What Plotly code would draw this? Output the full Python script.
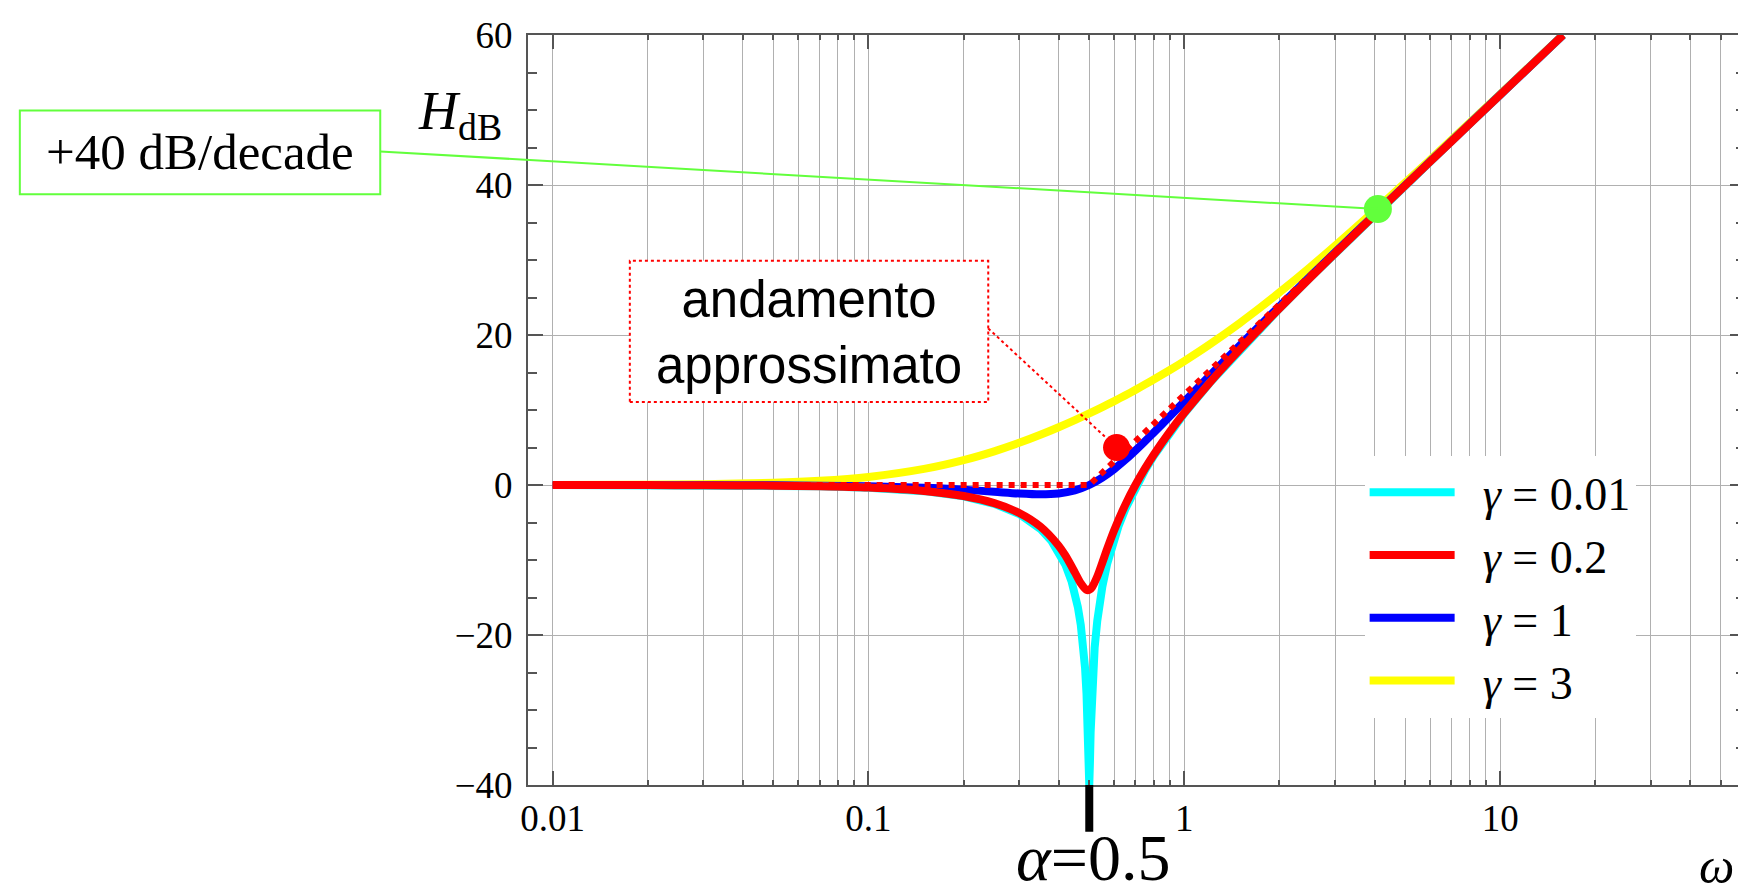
import math
import plotly.graph_objects as go

# ---------------- data ----------------
omega = [0.01, 0.02, 0.03, 0.05, 0.07, 0.1, 0.15, 0.2, 0.25, 0.3, 0.35, 0.4, 0.45,
         0.5, 0.55, 0.6, 0.65, 0.7, 0.75, 0.8, 0.9, 1.0, 1.2, 1.5, 1.75, 2, 2.5, 3,
         4, 5, 7, 10, 15.8]
db_gamma_1 = [-0.002, -0.007, -0.016, -0.043, -0.084, -0.170, -0.371, -0.627, -0.902,
              -1.138, -1.249, -1.138, -0.726, 0.000, 0.983, 2.131, 3.357, 4.596, 5.812,
              6.984, 9.169, 11.139, 14.536, 18.633, 21.424, 23.820, 27.789, 31.007,
              36.056, 39.957, 45.823, 52.030, 59.983]
db_gamma_3 = [0.012, 0.048, 0.108, 0.294, 0.560, 1.077, 2.143, 3.316, 4.491, 5.622,
              6.693, 7.701, 8.649, 9.542, 10.388, 11.190, 11.955, 12.686, 13.387,
              14.061, 15.337, 16.532, 18.721, 21.614, 23.744, 25.670, 29.036, 31.901,
              36.576, 40.294, 45.998, 52.116, 60.018]

omega_red = [0.01, 0.02, 0.03, 0.05, 0.07, 0.1, 0.15, 0.2, 0.25, 0.3, 0.35, 0.4, 0.42,
             0.45, 0.47, 0.49, 0.5, 0.51, 0.53, 0.55, 0.57, 0.6, 0.65, 0.7, 0.75, 0.8,
             0.9, 1.0, 1.2, 1.5, 1.75, 2, 2.5, 3, 4, 5, 7, 10, 15.8]
db_gamma_02 = [-0.003, -0.014, -0.031, -0.086, -0.168, -0.347, -0.800, -1.475, -2.422,
               -3.726, -5.533, -8.091, -9.397, -11.643, -13.108, -13.981, -13.979,
               -13.640, -12.202, -10.339, -8.485, -6.000, -2.646, 0.000, 2.181, 4.041,
               7.116, 9.619, 13.596, 18.086, 21.040, 23.534, 27.612, 30.886, 35.990,
               39.915, 45.801, 52.019, 59.980]

omega_cyan = [0.01, 0.02, 0.03, 0.05, 0.07, 0.1, 0.15, 0.2, 0.25, 0.3, 0.35, 0.38, 0.4,
              0.42, 0.44, 0.45, 0.46, 0.47, 0.48, 0.485, 0.49, 0.495, 0.4975, 0.5,
              0.5025, 0.505, 0.51, 0.515, 0.52, 0.53, 0.54, 0.55, 0.57, 0.6, 0.62, 0.65,
              0.7, 0.75, 0.8, 0.9, 1.0, 1.2, 1.5, 1.75, 2, 2.5, 3, 4, 5, 7, 10, 15.8]
db_gamma_001 = [-0.003, -0.014, -0.031, -0.088, -0.172, -0.355, -0.819, -1.514, -2.499,
                -3.876, -5.848, -7.484, -8.872, -10.618, -12.927, -14.415, -16.257,
                -18.653, -22.049, -24.453, -27.788, -33.063, -37.020, -40.0, -36.957,
                -32.958, -27.604, -24.186, -21.696, -18.128, -15.559, -13.544, -10.463,
                -7.128, -5.389, -3.221, -0.354, 1.938, 3.863, 7.005, 9.543, 13.552,
                18.062, 21.022, 23.522, 27.604, 30.881, 35.987, 39.913, 45.801, 52.019,
                59.980]

asym_omega = [0.01, 0.5, 15.81]
asym_db = [0, 0, 60]

alpha = 0.5
red_dot_omega, red_dot_db = [0.61], [5.0]
green_dot_omega, green_dot_db = [4.1], [36.8]

x_tick_vals = [0.01, 0.1, 1, 10]
x_tick_text = ["0.01", "0.1", "1", "10"]
x_minor_vals = [m * d for d in (0.01, 0.1, 1, 10) for m in range(2, 10) if m * d <= 50]
y_tick_vals = [-40, -20, 0, 20, 40, 60]
legend_labels = ["0.01", "0.2", "1", "3"]

# ---------------- layout helpers ----------------
W, H = 1746, 893
ML, MR, MT, MB = 520, 7, 23, 116
X_RANGE = [-2.078, 1.775]
Y_RANGE = [-40, 60]
SERIF = "Liberation Serif"
SANS = "Liberation Sans"
GREEN = "#62ff3c"
NB = "\u00a0\u00a0"


def xp(w):
    return (math.log10(w) - X_RANGE[0]) / (X_RANGE[1] - X_RANGE[0])


def yp(v):
    return (v - Y_RANGE[0]) / (Y_RANGE[1] - Y_RANGE[0])


def px_x(px):
    return (px - ML) / (W - ML - MR)


def px_y(py):
    return 1 - (py - MT) / (H - MT - MB)


def lab(v):
    return NB + "<i>γ</i> = " + v


fig = go.Figure()
LW = 8
fig.add_trace(go.Scatter(x=omega, y=db_gamma_3, mode="lines", name=lab(legend_labels[3]),
                         line=dict(color="#ffff00", width=LW, shape="spline", smoothing=0.8),
                         legendrank=4))
fig.add_trace(go.Scatter(x=omega, y=db_gamma_1, mode="lines", name=lab(legend_labels[2]),
                         line=dict(color="#0000ff", width=LW, shape="spline", smoothing=0.8),
                         legendrank=3))
fig.add_trace(go.Scatter(x=omega_cyan, y=db_gamma_001, mode="lines", name=lab(legend_labels[0]),
                         line=dict(color="#00ffff", width=LW), legendrank=1))
fig.add_trace(go.Scatter(x=omega_red, y=db_gamma_02, mode="lines", name=lab(legend_labels[1]),
                         line=dict(color="#ff0000", width=LW, shape="spline", smoothing=0.7),
                         legendrank=2))
fig.add_trace(go.Scatter(x=asym_omega, y=asym_db, mode="lines", showlegend=False,
                         line=dict(color="#ff0000", width=6, dash="dot")))
fig.add_trace(go.Scatter(x=red_dot_omega, y=red_dot_db, mode="markers", showlegend=False,
                         marker=dict(color="#ff0000", size=27)))
fig.add_trace(go.Scatter(x=green_dot_omega, y=green_dot_db, mode="markers", showlegend=False,
                         marker=dict(color=GREEN, size=28)))

axis_common = dict(showline=True, linecolor="#555555", linewidth=2, mirror="ticks",
                   ticks="inside", tickcolor="#555555", tickwidth=2,
                   gridcolor="#b0b0b0", gridwidth=1, zeroline=False,
                   tickfont=dict(family=SERIF, size=37, color="black"))

fig.update_xaxes(type="log", range=X_RANGE, tickmode="array", tickvals=x_tick_vals,
                 ticktext=x_tick_text, ticklen=14, showgrid=True,
                 minor=dict(tickmode="array", tickvals=x_minor_vals, ticks="inside",
                            ticklen=5, tickcolor="#555555", tickwidth=1.5, showgrid=True,
                            gridcolor="#b0b0b0", gridwidth=1),
                 **axis_common)
fig.update_yaxes(range=Y_RANGE, tickmode="array", tickvals=y_tick_vals, ticklen=15,
                 showgrid=True,
                 minor=dict(dtick=5, tick0=0, ticks="inside", ticklen=9,
                            tickcolor="#555555", tickwidth=1.5, showgrid=False),
                 ticklabelstandoff=6,
                 **axis_common)

shapes = [
    # green label box and leader
    dict(type="rect", xref="paper", yref="paper", x0=px_x(11), x1=px_x(372),
         y0=px_y(183), y1=px_y(99), line=dict(color=GREEN, width=2), fillcolor="white"),
    dict(type="line", xref="paper", yref="paper", x0=px_x(372), y0=px_y(140),
         x1=xp(green_dot_omega[0]), y1=yp(green_dot_db[0]), line=dict(color=GREEN, width=2)),
    # red dotted label box and leader
    dict(type="rect", xref="paper", yref="paper", x0=px_x(622), x1=px_x(981),
         y0=px_y(392), y1=px_y(250), line=dict(color="#ff0000", width=2, dash="dot"),
         fillcolor="white"),
    dict(type="line", xref="paper", yref="paper", x0=px_x(981), y0=px_y(318),
         x1=xp(red_dot_omega[0]), y1=yp(red_dot_db[0]),
         line=dict(color="#ff0000", width=2, dash="dot")),
    # alpha marker below the axis
    dict(type="line", xref="paper", yref="paper", x0=xp(alpha), x1=xp(alpha),
         y0=0, y1=px_y(824), line=dict(color="black", width=8)),
]

annotations = [
    dict(xref="paper", yref="paper", x=px_x(191.5), y=px_y(141), text="+40 dB/decade",
         showarrow=False, font=dict(family=SERIF, size=51, color="black"),
         xanchor="center", yanchor="middle"),
    dict(xref="paper", yref="paper", x=px_x(801), y=px_y(322),
         text="andamento<br>approssimato", showarrow=False,
         font=dict(family=SANS, size=51, color="black"), xanchor="center", yanchor="middle"),
    dict(xref="paper", yref="paper", x=px_x(452), y=px_y(103),
         text="<i>H</i><sub>dB</sub>", showarrow=False,
         font=dict(family=SERIF, size=54, color="black"), xanchor="center", yanchor="middle"),
    dict(xref="paper", yref="paper", x=px_x(1730), y=px_y(858), text="<i>ω</i>",
         showarrow=False, font=dict(family=SERIF, size=50, color="black"),
         xanchor="right", yanchor="middle"),
    dict(xref="paper", yref="paper", x=xp(alpha) + 4 / (W - ML - MR), y=px_y(889),
         text="<i>α</i>=0.5", showarrow=False,
         font=dict(family=SERIF, size=66, color="black"), xanchor="center", yanchor="bottom"),
]

fig.update_layout(
    width=W, height=H, autosize=False,
    margin=dict(l=ML, r=MR, t=MT, b=MB, pad=0),
    paper_bgcolor="white", plot_bgcolor="white",
    shapes=shapes, annotations=annotations,
    showlegend=True,
    legend=dict(x=px_x(1358), y=px_y(446), xanchor="left", yanchor="top",
                bgcolor="white", borderwidth=0, itemwidth=85,
                font=dict(family=SERIF, size=46, color="black")),
)

fig.write_html("out.html")
